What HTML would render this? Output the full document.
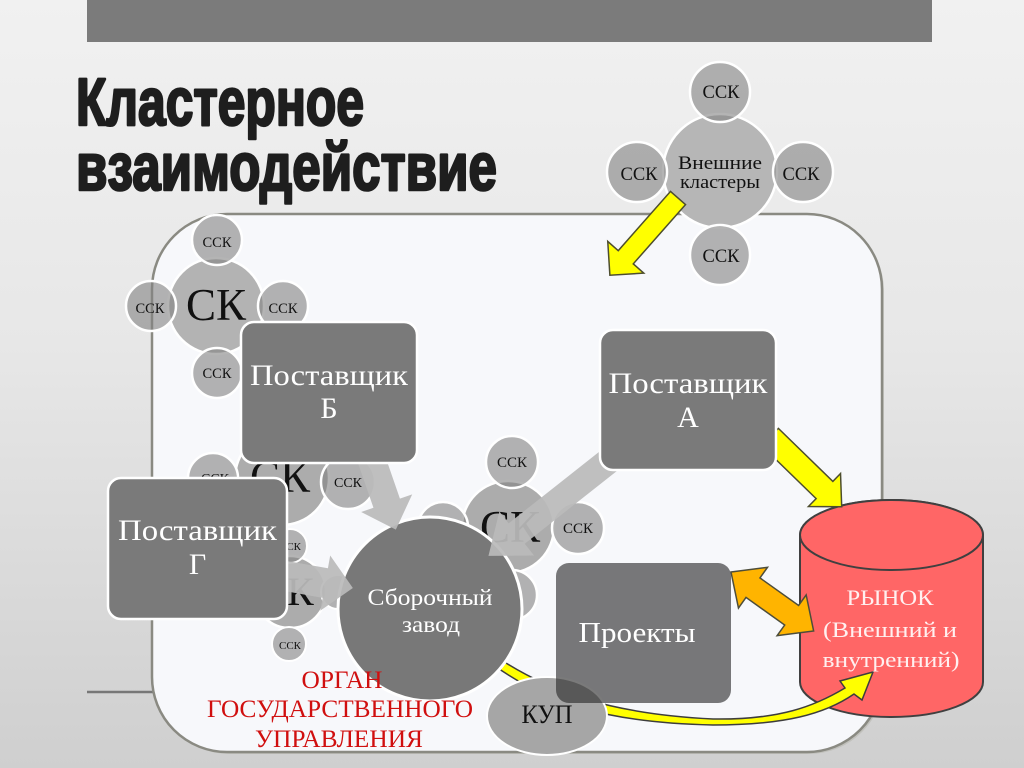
<!DOCTYPE html>
<html><head><meta charset="utf-8">
<style>
html,body{margin:0;padding:0;width:1024px;height:768px;overflow:hidden;background:#e6e6e6;}
svg{display:block}
</style></head>
<body>
<svg width="1024" height="768" viewBox="0 0 1024 768" xmlns="http://www.w3.org/2000/svg" font-family="'Liberation Serif','Noto Serif CJK SC',serif">
<defs>
<linearGradient id="bg" x1="0" y1="0" x2="0" y2="1">
<stop offset="0" stop-color="#f1f1f1"/>
<stop offset="0.45" stop-color="#e7e7e7"/>
<stop offset="1" stop-color="#cfcfcf"/>
</linearGradient>
</defs>
<rect width="1024" height="768" fill="url(#bg)"/>
<rect x="87" y="0" width="845" height="42" fill="#7b7b7b"/>

<!-- Title -->
<text x="76" y="125" font-family="'Liberation Sans Narrow','Liberation Sans',sans-serif" font-weight="bold" font-size="67" fill="#1e1e1e" stroke="#1e1e1e" stroke-width="2.6" stroke-linejoin="round" textLength="288" lengthAdjust="spacingAndGlyphs">Кластерное</text>
<text x="76" y="190" font-family="'Liberation Sans Narrow','Liberation Sans',sans-serif" font-weight="bold" font-size="67" fill="#1e1e1e" stroke="#1e1e1e" stroke-width="2.6" stroke-linejoin="round" textLength="421" lengthAdjust="spacingAndGlyphs">взаимодействие</text>

<line x1="87" y1="692" x2="154" y2="692" stroke="#777" stroke-width="2.5"/>

<!-- Frame -->
<rect x="154" y="216" width="730" height="538" rx="75" fill="#b5b5ae" opacity="0.6"/>
<rect x="152" y="214" width="730" height="538" rx="75" fill="#f7f8fb" stroke="#8a8a82" stroke-width="2.5"/>

<!-- Cylinder -->
<path d="M800,535 L800,682 A91.5,35 0 0 0 983,682 L983,535 A91.5,35 0 0 0 800,535 Z" fill="#ff6666" stroke="#404040" stroke-width="2"/>
<ellipse cx="891.5" cy="535" rx="91.5" ry="35" fill="#ff6666" stroke="#404040" stroke-width="2"/>

<!-- External cluster -->
<circle cx="720" cy="171" r="57" fill="#b6b6b6" stroke="#fff" stroke-width="2.5"/>
<g fill="#828282" fill-opacity="0.6" stroke="#fff" stroke-width="2.5">
<circle cx="720" cy="92" r="30"/>
<circle cx="637" cy="172" r="30"/>
<circle cx="803" cy="172" r="30"/>
<circle cx="720" cy="255" r="30"/>
</g>
<g fill="#111" font-size="18.5" text-anchor="middle">
<text x="721" y="98">ССК</text>
<text x="639" y="180">ССК</text>
<text x="801" y="180">ССК</text>
<text x="721" y="262">ССК</text>
<text x="720" y="169" font-size="19" textLength="84" lengthAdjust="spacingAndGlyphs">Внешние</text>
<text x="720" y="188" font-size="19" textLength="80" lengthAdjust="spacingAndGlyphs">кластеры</text>
</g>
<g transform="translate(678,198) rotate(131.4)"><polygon points="0,-10 79,-10 79,-24 103,0 79,24 79,10 0,10" fill="#ffff00" stroke="#4d4d2e" stroke-width="1.5"/></g>

<!-- Top-left cluster -->
<circle cx="216" cy="306" r="48" fill="#b3b3b3" stroke="#fff" stroke-width="2.5"/>
<g fill="#828282" fill-opacity="0.6" stroke="#fff" stroke-width="2.5">
<circle cx="217" cy="240" r="25"/>
<circle cx="151" cy="306" r="25"/>
<circle cx="283" cy="306" r="25"/>
<circle cx="217" cy="373" r="25"/>
</g>
<g fill="#111" text-anchor="middle" font-size="14.5">
<text x="217" y="247">ССК</text>
<text x="150" y="313">ССК</text>
<text x="283" y="313">ССК</text>
<text x="217" y="378">ССК</text>
<text x="216" y="320" font-size="45">СК</text>
</g>

<!-- Cluster 2 -->
<circle cx="282" cy="478" r="47" fill="#acacac" stroke="#fff" stroke-width="2.5"/>
<g fill="#828282" fill-opacity="0.6" stroke="#fff" stroke-width="2.5">
<circle cx="213" cy="478" r="25"/>
<circle cx="348" cy="482" r="27"/>
</g>
<g fill="#111" text-anchor="middle">
<text x="215" y="483" font-size="14">ССК</text>
<text x="348" y="487" font-size="14">ССК</text>
<text x="280" y="492" font-size="45">СК</text>
</g>

<!-- Cluster 3 -->
<circle cx="290" cy="592" r="36" fill="#acacac" stroke="#fff" stroke-width="2.5"/>
<g fill="#828282" fill-opacity="0.6" stroke="#fff" stroke-width="2">
<circle cx="290" cy="546" r="17"/>
<circle cx="289" cy="644" r="17"/>
<circle cx="338" cy="592" r="17"/>
</g>
<g fill="#111" text-anchor="middle">
<text x="290" y="550" font-size="11">ССК</text>
<text x="290" y="649" font-size="11">ССК</text>
<text x="287" y="605" font-size="40">СК</text>
</g>

<!-- Cluster 4 -->
<circle cx="508" cy="527" r="46" fill="#acacac" stroke="#fff" stroke-width="2.5"/>
<g fill="#828282" fill-opacity="0.6" stroke="#fff" stroke-width="2.5">
<circle cx="512" cy="462" r="26"/>
<circle cx="578" cy="528" r="26"/>
<circle cx="443" cy="527" r="25"/>
<circle cx="512" cy="595" r="25"/>
</g>
<g fill="#111" text-anchor="middle">
<text x="512" y="467" font-size="15">ССК</text>
<text x="578" y="533" font-size="15">ССК</text>
<text x="510" y="542" font-size="45">СК</text>
</g>

<!-- Curved yellow arrow -->
<path d="M498,658 C550,692 610,714 713,719 C780,720 815,706 845,688 L840,681 L873,672 L862,700 L854,694 C825,714 785,725 713,725 C610,723 548,704 495,666 Z" fill="#ffff00" stroke="#3d3d3d" stroke-width="1.5"/>

<!-- Assembly plant -->
<circle cx="430" cy="609" r="92" fill="#787878" stroke="#fff" stroke-width="3"/>
<g fill="#fff" text-anchor="middle" font-size="23">
<text x="430" y="605" textLength="125" lengthAdjust="spacingAndGlyphs">Сборочный</text>
<text x="431" y="632" textLength="58" lengthAdjust="spacingAndGlyphs">завод</text>
</g>

<!-- Grey arrows -->
<g fill="#bababa" fill-opacity="0.93">
<g transform="translate(625,448) rotate(141.7)"><polygon points="0,-13 138,-13 138,-28 174,0 138,28 138,13 0,13"/></g>
<g transform="translate(370,455) rotate(70.9)"><polygon points="0,-14 51,-14 51,-27 79,0 51,27 51,14 0,14"/></g>
<g transform="translate(280,575) rotate(10.1)"><polygon points="0,-15 46,-15 46,-28 74,0 46,28 46,15 0,15"/></g>
</g>

<!-- Yellow arrow A -> market -->
<g transform="translate(770,437) rotate(44.2)"><polygon points="0,-12 76,-12 76,-23 100,0 76,23 76,12 0,12" fill="#ffff00" stroke="#4d4d2e" stroke-width="1.5"/></g>

<!-- КУП -->
<ellipse cx="547" cy="716" rx="60" ry="39" fill="#a6a6a6" stroke="#fff" stroke-width="2"/>
<text x="547" y="723" font-size="26" text-anchor="middle" fill="#111" textLength="51" lengthAdjust="spacingAndGlyphs">КУП</text>

<!-- Projects -->
<rect x="556" y="563" width="175" height="140" rx="13" fill="#282828" fill-opacity="0.62"/>
<text x="637" y="642" font-size="29" text-anchor="middle" fill="#fff" textLength="117" lengthAdjust="spacingAndGlyphs">Проекты</text>

<!-- Orange double arrow -->
<g transform="translate(731,572) rotate(35.5)"><polygon points="0,0 27,-25 27,-12 74.5,-12 74.5,-25 101.5,0 74.5,25 74.5,12 27,12 27,25" fill="#ffb400" stroke="#4d4d3a" stroke-width="1.5"/></g>

<!-- Supplier boxes -->
<g fill="#7a7a7a" stroke="#fff" stroke-width="2.5">
<rect x="241" y="322" width="176" height="141" rx="13"/>
<rect x="108" y="478" width="179" height="141" rx="13"/>
<rect x="600" y="330" width="176" height="140" rx="13"/>
</g>
<g fill="#fff" text-anchor="middle" font-size="30">
<text x="329" y="385" textLength="158" lengthAdjust="spacingAndGlyphs">Поставщик</text>
<text x="329" y="418">Б</text>
<text x="197.5" y="540" textLength="159" lengthAdjust="spacingAndGlyphs">Поставщик</text>
<text x="197.5" y="574">Г</text>
<text x="688" y="393" textLength="159" lengthAdjust="spacingAndGlyphs">Поставщик</text>
<text x="688" y="427">А</text>
</g>

<!-- Red label -->
<g fill="#d00f0f" text-anchor="middle" font-size="25">
<text x="342" y="688" textLength="81" lengthAdjust="spacingAndGlyphs">ОРГАН</text>
<text x="340" y="717" textLength="266" lengthAdjust="spacingAndGlyphs">ГОСУДАРСТВЕННОГО</text>
<text x="339" y="747" textLength="168" lengthAdjust="spacingAndGlyphs">УПРАВЛЕНИЯ</text>
</g>

<!-- Market text -->
<g fill="#fff0f0" text-anchor="middle" font-size="22">
<text x="890" y="605" textLength="87" lengthAdjust="spacingAndGlyphs">РЫНОК</text>
<text x="890" y="637" textLength="134" lengthAdjust="spacingAndGlyphs">(Внешний и</text>
<text x="891" y="667" textLength="137" lengthAdjust="spacingAndGlyphs">внутренний)</text>
</g>
</svg>
</body></html>
